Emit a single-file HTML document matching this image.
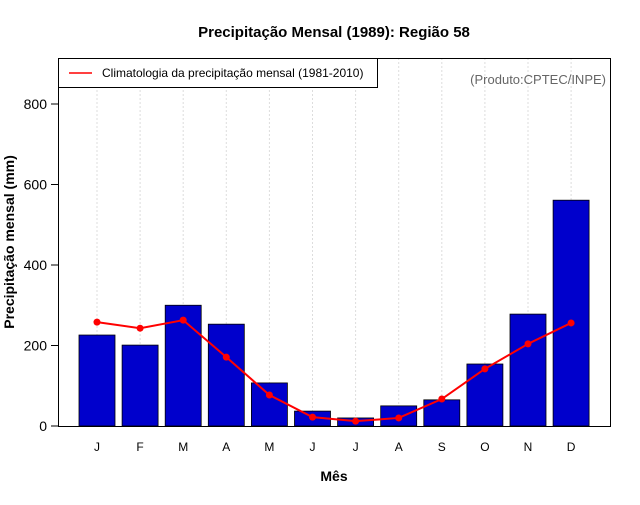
<!DOCTYPE html>
<html><head><meta charset="utf-8"><style>
body{margin:0;background:#fff;font-family:"Liberation Sans",sans-serif}
</style></head><body>
<svg width="640" height="500" xmlns="http://www.w3.org/2000/svg" font-family="Liberation Sans, sans-serif">
<text x="334" y="37" text-anchor="middle" font-size="15" font-weight="bold">Precipitação Mensal (1989): Região 58</text>
<g id="grid"></g>
<g id="bars"></g>
<g id="clim"></g>
<rect x="58.5" y="58.5" width="552" height="368" fill="none" stroke="#000"/>
<g id="yaxis"></g>
<g id="xaxis"></g>
<text x="334" y="481" text-anchor="middle" font-size="14" font-weight="bold">Mês</text>
<text transform="translate(14,242) rotate(-90)" text-anchor="middle" font-size="14" font-weight="bold">Precipitação mensal (mm)</text>
<g>
<rect x="58.5" y="58.5" width="319" height="29" fill="#fff" stroke="#000"/>
<line x1="69" y1="73" x2="92" y2="73" stroke="#ff0000" stroke-width="1.5"/>
<text x="102" y="77" font-size="12">Climatologia da precipitação mensal (1981-2010)</text>
</g>
<text x="606" y="84" text-anchor="end" font-size="13" fill="#666">(Produto:CPTEC/INPE)</text>
</svg>
<script>
const months=["J","F","M","A","M","J","J","A","S","O","N","D"];
const precip1989=[226,201,300,253,107,37,20,50,65,154,278,561];
const climatology=[258,243,263,171,77,22,12,20,67,142,204,256];
const yTicks=[0,200,400,600,800];
const NS="http://www.w3.org/2000/svg";
const xs=i=>97+i*43.1;
const ys=v=>426-v*0.4025;
function mk(t,a,p){const e=document.createElementNS(NS,t);for(const k in a)e.setAttribute(k,a[k]);p.appendChild(e);return e;}
const g=document.getElementById('grid'),b=document.getElementById('bars'),c=document.getElementById('clim'),ya=document.getElementById('yaxis'),xa=document.getElementById('xaxis');
months.forEach((m,i)=>{
 const l=mk('line',{x1:xs(i),x2:xs(i),y1:58,y2:426,stroke:'#ddd','stroke-dasharray':'2,2'},g);
 
 
 const r=mk('rect',{x:xs(i)-18,y:ys(precip1989[i]),width:36,height:precip1989[i]*0.4025,fill:'#0000cc',stroke:'#000','stroke-width':0.8},b);
 
 
 const t=mk('text',{x:xs(i),y:451,'text-anchor':'middle','font-size':12},xa);t.textContent=m;
 
 
});
const pl=mk('polyline',{points:climatology.map((v,i)=>xs(i)+','+ys(v)).join(' '),fill:'none',stroke:'#ff0000','stroke-width':2},c);


climatology.forEach((v,i)=>{
 const p=mk('circle',{cx:xs(i),cy:ys(v),r:3.5,fill:'#ff0000'},c);
 
 
});
mk('line',{x1:58.5,x2:58.5,y1:ys(0),y2:ys(800),stroke:'#000'},ya);
yTicks.forEach(v=>{
 mk('line',{x1:51,x2:58.5,y1:ys(v),y2:ys(v),stroke:'#000'},ya);
 const t=mk('text',{x:47,y:ys(v)+5,'text-anchor':'end','font-size':14},ya);t.textContent=v;
 
 
});
</script>
</body></html>
